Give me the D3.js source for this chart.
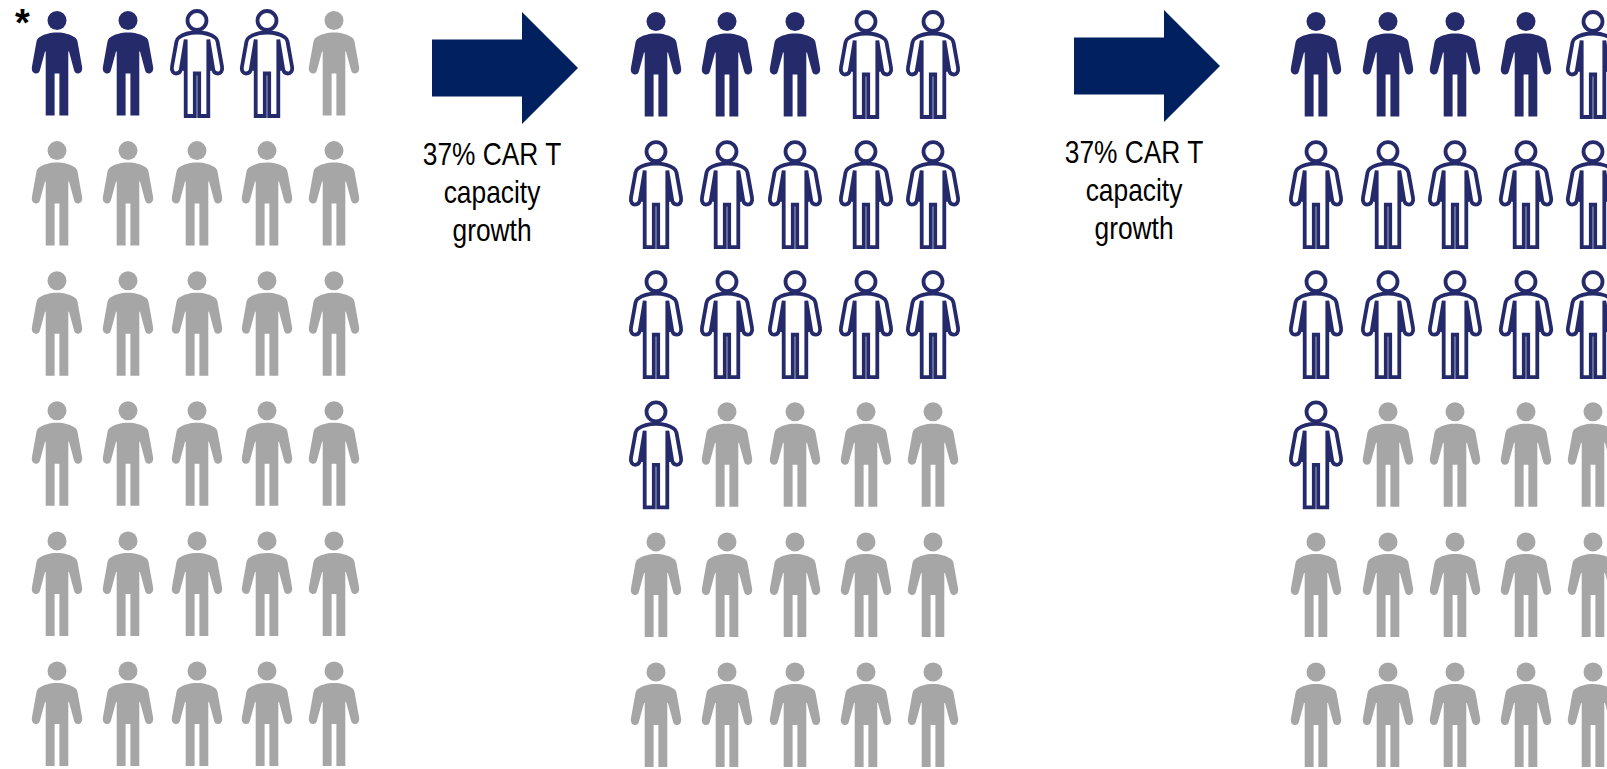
<!DOCTYPE html>
<html>
<head>
<meta charset="utf-8">
<script src="https://cdn.jsdelivr.net/npm/d3@7"></script>
<style>
  html, body { margin: 0; padding: 0; background: #fff; overflow: hidden; }
  text { font-family: "Liberation Sans", Arial, sans-serif; fill: #000; }
</style>
</head>
<body>
<svg id="chart" width="1607" height="769"></svg>
<script>
// number of people per state, one array per panel
const PANEL_NAMES = ['before', 'after1', 'after2'];
const TREATED = [2, 3, 4];
const ELIGIBLE = [2, 13, 12];
const UNTREATED = [26, 14, 14];
const ROWS = [0, 1, 2, 3, 4, 5];
const COLS = [0, 1, 2, 3, 4];
const ARROW_LABEL = ['37% CAR T', 'capacity', 'growth'];

const FILLED = '#252a6b';
const GREY = '#a6a6a6';
const ARROW = '#002060';

// person glyph, origin at head centre
const BODY = 'M0,12 C7,12 14,14 18,17 C19.5,18 20,19 20.5,21 L25,46 C26,51 23,53 21,53 ' +
  'C19,53 17.5,52 17,49.5 L12,31 L11.3,31 L11.3,95 L2.4,95 L2.4,53 L-2.4,53 L-2.4,95 L-11.3,95 L-11.3,31 ' +
  'L-12,31 L-17,49.5 C-17.5,52 -19,53 -21,53 C-23,53 -26,51 -25,46 L-20.5,21 C-20,19 -19.5,18 -18,17 ' +
  'C-14,14 -7,12 0,12 Z';
// outlined version: armpit runs up to the shoulder, notch is filled solid
const OUTLINE = 'M0,12 C7,12 14,14 18,17 C19.5,18 20,19 20.5,21 L25,46 C26,51 23,53 21,53 ' +
  'C19,53 17,52 16.3,49.5 L11.3,19 L11.3,95.5 L2.2,95.5 L2.2,53 L-2.2,53 L-2.2,95.5 L-11.3,95.5 L-11.3,19 ' +
  'L-16.3,49.5 C-17,52 -19,53 -21,53 C-23,53 -26,51 -25,46 L-20.5,21 C-20,19 -19.5,18 -18,17 ' +
  'C-14,14 -7,12 0,12 Z';
const NOTCH = 'M11.3,19 L16.3,49.5 L11.3,51 Z M-11.3,19 L-16.3,49.5 L-11.3,51 Z';

const svg = d3.select('#chart');

const colScales = [
  d3.scaleLinear().domain(COLS).range([57, 128, 197, 267, 334]),
  d3.scaleLinear().domain(COLS).range([656, 727, 795, 866, 933]),
  d3.scaleLinear().domain(COLS).range([1316, 1388, 1455, 1526, 1593]),
];
const rowScale = d3.scaleLinear().domain([0, 5]).range([20.5, 671]);

function statesFor(i) {
  return [
    ...d3.range(TREATED[i]).map(() => 'treated'),
    ...d3.range(ELIGIBLE[i]).map(() => 'eligible'),
    ...d3.range(UNTREATED[i]).map(() => 'untreated'),
  ];
}

PANEL_NAMES.forEach((name, p) => {
  const people = statesFor(p).map((state, i) => ({
    state,
    col: i % COLS.length,
    row: ROWS[Math.floor(i / COLS.length)],
  }));

  const g = svg.append('g').attr('class', `panel-${name}`)
    .selectAll('g.person')
    .data(people)
    .join('g')
    .attr('class', 'person')
    .attr('transform', (d) => `translate(${colScales[p](d.col)},${rowScale(d.row) + (p > 0 ? 1 : 0)})`);

  g.append('circle')
    .attr('r', 9.5)
    .attr('fill', (d) => (d.state === 'eligible' ? '#fff' : d.state === 'treated' ? FILLED : GREY))
    .attr('stroke', (d) => (d.state === 'eligible' ? FILLED : 'none'))
    .attr('stroke-width', 3.8);

  g.append('path')
    .attr('d', (d) => (d.state === 'eligible' ? OUTLINE : BODY))
    .attr('fill', (d) => (d.state === 'eligible' ? '#fff' : d.state === 'treated' ? FILLED : GREY))
    .attr('stroke', (d) => (d.state === 'eligible' ? FILLED : 'none'))
    .attr('stroke-width', 3.8);

  g.filter((d) => d.state === 'eligible').append('path')
    .attr('d', NOTCH)
    .attr('fill', FILLED);
});

// asterisk on the first person
svg.append('text')
  .attr('x', 22.5)
  .attr('y', 36)
  .attr('text-anchor', 'middle')
  .style('font-size', '38px')
  .style('font-weight', '700')
  .text('*');

// growth arrows between panels
const arrowShape = d3.line();
[{ x: 432, y: 68 }, { x: 1074, y: 66 }].forEach((a) => {
  const g = svg.append('g').attr('transform', `translate(${a.x},${a.y})`);
  g.append('path')
    .attr('d', arrowShape([[0, -28.5], [90, -28.5], [90, -56], [146, 0], [90, 56], [90, 28.5], [0, 28.5]]) + 'Z')
    .attr('fill', ARROW);
  ARROW_LABEL.forEach((line, i) => {
    g.append('text')
      .attr('transform', `translate(60,${97 + i * 38}) scale(0.85,1)`)
      .attr('text-anchor', 'middle')
      .style('font-size', '31px')
      .text(line);
  });
});
</script>
</body>
</html>
